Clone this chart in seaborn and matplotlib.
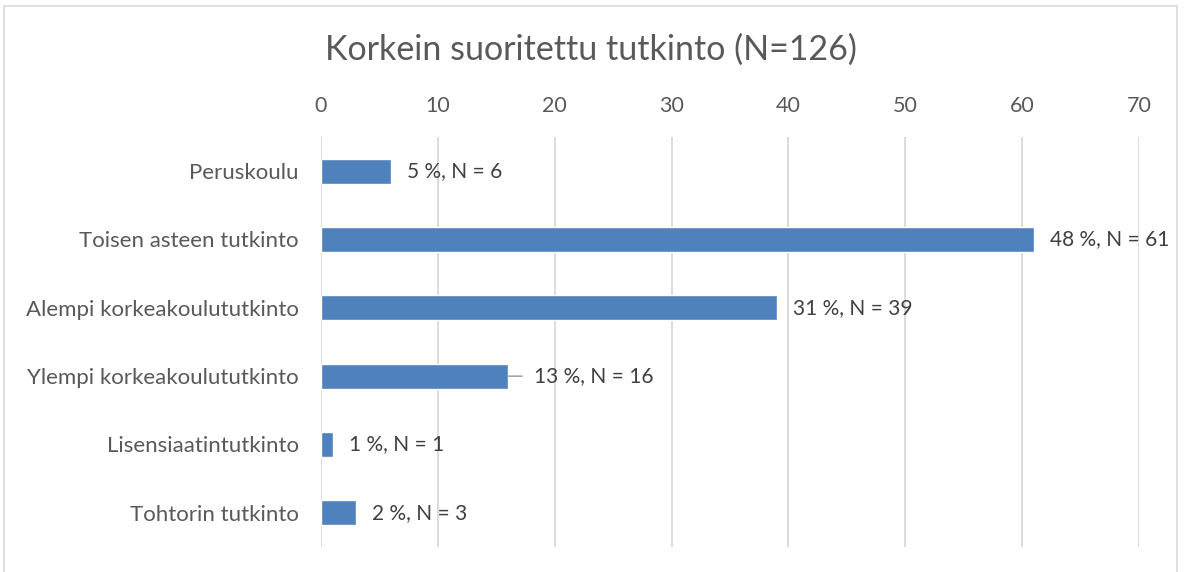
import matplotlib
matplotlib.use("Agg")
import matplotlib.pyplot as plt
import seaborn as sns
import pandas as pd
from matplotlib.patches import Rectangle

categories = ["Peruskoulu", "Toisen asteen tutkinto", "Alempi korkeakoulututkinto",
              "Ylempi korkeakoulututkinto", "Lisensiaatintutkinto", "Tohtorin tutkinto"]
counts = [6, 61, 39, 16, 1, 3]
percents = [5, 48, 31, 13, 1, 2]
title = "Korkein suoritettu tutkinto (N=126)"
xticks = [0, 10, 20, 30, 40, 50, 60, 70]

sns.set_style("white")
plt.rcParams["font.family"] = ["Lato", "DejaVu Sans"]

text_color = "#595959"
bar_color = "#4F81BD"
grid_color = "#D9D9D9"

df = pd.DataFrame({"category": categories, "count": counts})

W, H = 1186, 572
fig = plt.figure(figsize=(W / 100, H / 100), dpi=100)
ax = fig.add_axes([321 / W, 1 - 547 / H, (1139 - 321) / W, (547 - 137) / H])

sns.barplot(data=df, y="category", x="count", orient="h", color=bar_color,
            saturation=1, width=0.37, ax=ax, order=categories)

ax.set_xlim(0, 70)
ax.set_xticks(xticks)
ax.xaxis.tick_top()
ax.set_xlabel("")
ax.set_ylabel("")
for s in ax.spines.values():
    s.set_visible(False)
ax.grid(axis="x", color=grid_color, linewidth=1.3)
ax.grid(axis="y", visible=False)
ax.set_axisbelow(True)
ax.tick_params(axis="both", length=0, colors=text_color)
ax.tick_params(axis="x", pad=15, labelsize=15.5)
ax.tick_params(axis="y", pad=16, labelsize=16)

for i, (c, p) in enumerate(zip(counts, percents)):
    label = f"{p} %, N = {c}"
    if c == 16:
        ax.annotate(label, xy=(c, i), xytext=(19, 0), textcoords="offset points",
                    va="center", ha="left", fontsize=15, color="#404040",
                    arrowprops=dict(arrowstyle="-", color="#A6A6A6", lw=1.2,
                                    shrinkA=6.5, shrinkB=0,
                                    relpos=(0, 0.5)))
    else:
        ax.annotate(label, xy=(c, i), xytext=(11.5, 0), textcoords="offset points",
                    va="center", ha="left", fontsize=15, color="#404040")

fig.text(0.5 * (4 + 1177) / W, 1 - 50 / H, title, ha="center", va="center",
         fontsize=24.5, color=text_color)

fig.patches.append(Rectangle((4 / W, -0.05), (1177 - 4) / W, 1.05 - 6 / H,
                             transform=fig.transFigure, fill=False,
                             edgecolor=grid_color, linewidth=1.2))

fig.savefig("out.png", dpi=100)
